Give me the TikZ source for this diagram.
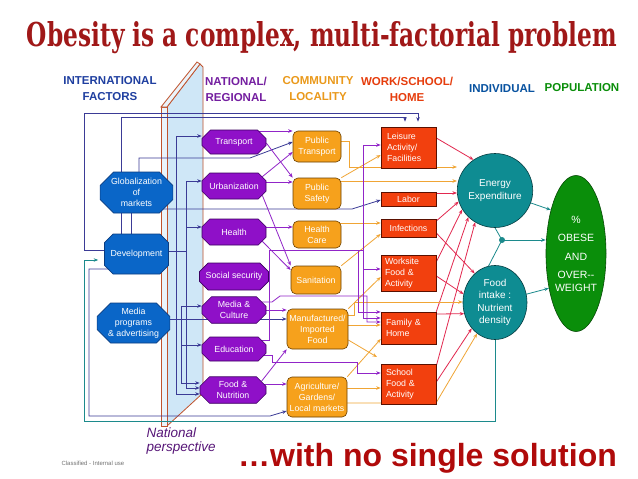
\documentclass[tikz,border=0pt]{standalone}
\usepackage{fontspec}
\setmainfont{Liberation Sans}
\newfontfamily\titlefont{DejaVu Serif}
\usetikzlibrary{shapes.misc,shapes.geometric,arrows.meta}
\definecolor{cint}{HTML}{0A66C8}\definecolor{cintb}{HTML}{0A3C80}
\definecolor{cnat}{HTML}{8F10C8}\definecolor{cnatb}{HTML}{3C0060}
\definecolor{ccom}{HTML}{F6A11C}\definecolor{ccomb}{HTML}{6B4000}
\definecolor{cwork}{HTML}{F2400E}\definecolor{cworkb}{HTML}{5A1000}
\definecolor{cind}{HTML}{0E8C92}\definecolor{cindb}{HTML}{043C40}
\definecolor{cpop}{HTML}{0A8E0A}\definecolor{cpopb}{HTML}{064A06}
\definecolor{lnav}{HTML}{3B3B96}\definecolor{lpur}{HTML}{9125C8}
\definecolor{lora}{HTML}{F0A535}\definecolor{lred}{HTML}{E2284F}
\definecolor{ltea}{HTML}{1C8A8C}
\definecolor{hblue}{HTML}{1F3FA0}
\definecolor{titred}{HTML}{A01818}\definecolor{solred}{HTML}{B00A0A}
\definecolor{slabface}{HTML}{CFE7F7}\definecolor{slabstrip}{HTML}{EAF4FB}
\definecolor{slabline}{HTML}{C0532D}
\pgfdeclarelayer{back}\pgfdeclarelayer{lines}\pgfsetlayers{back,lines,main}
\begin{document}
\begin{tikzpicture}[x=1pt,y=-1pt,
 box/.style={draw, line width=0.6pt, inner sep=1pt, align=center, font=\fontsize{8.8}{11}\selectfont},
 intl/.style={box, chamfered rectangle, chamfered rectangle xsep=10pt, fill=cint, draw=cintb, text=white, minimum width=63pt, minimum height=41pt},
 natl/.style={box, chamfered rectangle, chamfered rectangle xsep=6pt, fill=cnat, draw=cnatb, text=white, minimum width=64pt},
 comm/.style={box, rectangle, rounded corners=5pt, fill=ccom, draw=ccomb, text=white, minimum width=48pt},
 work/.style={box, rectangle, fill=cwork, draw=cworkb, text=white, minimum width=55pt, text width=43pt, inner sep=6pt, align=left},
 indiv/.style={ellipse, draw=cindb, line width=0.6pt, fill=cind, text=white, minimum width=64pt, minimum height=74pt, align=center, inner sep=0pt, font=\fontsize{10}{12.5}\selectfont},
 hdr/.style={font=\fontsize{11.5}{16}\selectfont\bfseries, align=center},
 tip/.style={-{Stealth[length=4.5pt,width=3.5pt]}},
 nav/.style={draw=lnav, line width=0.8pt},
 navA/.style={nav, tip},
 pur/.style={draw=lpur, line width=0.8pt},
 purA/.style={pur, tip},
 oraA/.style={draw=lora, line width=0.8pt, tip},
 redA/.style={draw=lred, line width=0.8pt, tip},
 tea/.style={draw=ltea, line width=0.8pt},
 teaA/.style={tea, tip}]
\useasboundingbox (0,0) rectangle (638,479);

% title
\node[anchor=base, text=titred] (title) at (322,46) {\resizebox{590pt}{25pt}{\titlefont\bfseries Obesity is a complex, multi-factorial problem}};

% headers
\node[hdr, text=hblue] (h1) at (110,89) {INTERNATIONAL\\FACTORS};
\node[hdr, text=lpur!80!black] (h2) at (236,89) {NATIONAL/\\REGIONAL};
\node[hdr, text=ccom!95!black] (h3) at (318,89) {COMMUNITY\\LOCALITY};
\node[hdr, text=cwork!95!black] (h4) at (407,89) {WORK/SCHOOL/\\HOME};
\node[hdr, text=cint!80!black] (h5) at (502,89) {INDIVIDUAL};
\node[hdr, text=cpop] (h6) at (582,88) {POPULATION};

% slab
\begin{pgfonlayer}{back}
\fill[white] (0,0) rectangle (638,479);
\filldraw[fill=slabface, draw=slabline, line width=0.8pt] (167,107) -- (200,64) -- (203,67) -- (203,393) -- (167,426) -- cycle;
\filldraw[fill=slabstrip, draw=slabline, line width=0.8pt] (161,107) -- (167,107) -- (167,426) -- (161,426) -- cycle;
\filldraw[fill=slabstrip, draw=slabline, line width=0.8pt] (161,107) -- (197,62) -- (200,64) -- (167,107) -- cycle;
\end{pgfonlayer}
\node[anchor=north west, align=left, text=lpur!60!black, font=\fontsize{13.5}{14}\selectfont\itshape] (natp) at (143,424) {National\\perspective};

% international
\node[intl] (glob) at (136.5,192.5) {Globalization\\of\\markets};
\node[intl, minimum height=40pt] (dev) at (136.5,254) {Development};
\node[intl, minimum height=40pt] (media) at (133.5,323) {Media\\programs\\\& advertising};

% national
\node[natl, minimum height=24pt] (tr) at (234,142) {Transport};
\node[natl, minimum height=26pt] (urb) at (234,186) {Urbanization};
\node[natl, minimum height=26pt] (hea) at (234,232) {Health};
\node[natl, minimum height=27pt] (soc) at (234,276.5) {Social security};
\node[natl, minimum height=26pt] (mc) at (234,310) {Media \&\\Culture};
\node[natl, minimum height=24pt] (edu) at (234,349) {Education};
\node[natl, minimum height=25pt, minimum width=66pt] (fn) at (233,390) {Food \&\\Nutrition};

% community
\node[comm, minimum height=31pt] (pt) at (317,146.5) {Public\\Transport};
\node[comm, minimum height=31pt] (ps) at (317,193.5) {Public\\Safety};
\node[comm, minimum height=27pt] (hc) at (317,234.5) {Health\\Care};
\node[comm, minimum height=28pt, minimum width=50pt] (san) at (316,280) {Sanitation};
\node[comm, minimum height=40pt, minimum width=61pt] (man) at (317.5,329) {Manufactured/\\Imported\\Food};
\node[comm, minimum height=40pt, minimum width=60pt] (agr) at (317,397) {Agriculture/\\Gardens/\\Local markets};

% work
\node[work, minimum height=41pt] (lei) at (408.5,147.5) {Leisure\\Activity/\\Facilities};
\node[work, minimum height=14pt, align=center, inner sep=1pt] (lab) at (408.5,199) {Labor};
\node[work, minimum height=18pt, align=center, inner sep=1pt] (inf) at (408.5,228) {Infections};
\node[work, minimum height=33pt, inner sep=3pt, text width=47pt] (wor) at (408.5,273.5) {Worksite\\Food \&\\Activity};
\node[work, minimum height=32pt, inner sep=5pt, text width=45pt] (fam) at (408.5,328) {Family \&\\Home};
\node[work, minimum height=38pt, inner sep=5pt, text width=45pt] (sch) at (408.5,384) {School\\Food \&\\Activity};

% individual / population
\node[indiv] (ee) at (495,190.5) {Energy\\Expenditure};
\node[indiv] (fi) at (495,302.5) {Food\\intake :\\Nutrient\\density};
\node[ellipse, draw=cpopb, line width=0.6pt, fill=cpop, text=white, minimum width=60pt, minimum height=156pt, inner sep=0pt, align=center, font=\fontsize{10.5}{18.5}\selectfont] (pop) at (576,253.5) {\%\\OBESE\\AND\\OVER-{}-\\[-6pt]WEIGHT};

% bottom texts
\node[anchor=base, text=solred, font=\fontsize{32}{34}\selectfont\bfseries] (sol) at (427.5,466) {…with no single solution};
\node[anchor=base west, text=black!55, font=\fontsize{6}{7}\selectfont] (cls) at (58,465) {Classified - Internal use};

\coordinate (gapc) at (377,357);
\coordinate (jn) at (502,240);

\begin{pgfonlayer}{lines}
% navy
\draw[navA, shorten >=5pt] (dev |- 0,250) -- (84,250) -- (84,113) -- (418,113) -- (lei.north -| 418,0);
\draw[navA, shorten >=5pt] (glob -| 121,0) -- (121,117) -- (405,117) -- (lei.north -| 405,0);
\draw[navA] (glob -| 139,0) -- (139,158) -- (250,158) -- (pt.west |- 0,142);
\draw[navA] (glob |- 0,209) -- (352,209) -- (lab.west |- 0,200);
\draw[nav] (glob -| 121,0) -- (dev -| 121,0);
\draw[nav] (glob -| 131,0) -- (dev -| 131,0);
\draw[navA] (dev |- 0,251) -- (186,251) -- (186,181) -- (urb.west |- 0,181);
\draw[navA] (186,227) -- (hea.west |- 0,227);
\draw[navA] (186,251) -- (186,388) -- (fn.west |- 0,388);
\draw[navA] (176,251) -- (176,136) -- (tr.west |- 0,136);
\draw[navA] (176,251) -- (176,394) -- (fn.west |- 0,394);
\draw[navA] (media |- 0,319) -- (man.west |- 0,319);
\draw[navA] (181,319) -- (181,306) -- (mc.west |- 0,306);
\draw[navA] (181,319) -- (181,383) -- (fn.west |- 0,383);
\draw[navA] (181,345) -- (edu.west |- 0,345);
\draw[navA] (dev |- 0,269) -- (89,269) -- (89,416) -- (270,416) -- (agr.west |- 0,411);
% teal
\draw[teaA, shorten >=6pt] (fi) -- (fi |- 0,421) -- (84,421) -- (84,260) -- (dev.west |- 0,260);
\draw[teaA] (ee) -- (pop.120);
\draw[tea] (ee.south) -- (jn) -- (fi.100);
\fill[ltea] (jn) circle (3pt);
\draw[teaA] (jn) -- (pop.west |- jn);
\draw[teaA] (fi) -- (pop.232);
% red
\draw[redA] (lei.east |- 0,138) -- (ee.125);
\draw[redA] (lab.east |- 0,193) -- (ee.west |- 0,193);
\draw[redA] (inf.east |- 0,221) -- (ee.197);
\draw[redA] (inf.east |- 0,233) -- (fi.125);
\draw[redA] (wor.east |- 0,262) -- (ee.210);
\draw[redA] (wor.east |- 0,276) -- (fi.165);
\draw[redA] (fam.north east) -- (ee.225);
\draw[redA] (fam.east |- 0,314) -- (fi.200);
\draw[redA] (sch.east |- 0,366) -- (ee.238);
\draw[redA] (sch.east |- 0,382) -- (fi.228);
% orange
\draw[oraA] (pt |- 0,141) -- (349,141) -- (349,167) -- (ee.west |- 0,167);
\draw[oraA] (ps |- 0,181) -- (ee.west |- 0,181);
\draw[oraA] (ps.north east) -- (lei.west |- 0,155);
\draw[oraA] (hc |- 0,223) -- (inf.west |- 0,223);
\draw[oraA] (san.north east) -- (inf.west |- 0,234);
\draw[oraA] (man.north east) -- (wor.west |- 0,277);
\draw[oraA] (man |- 0,315) -- (354,315) -- (354,302) -- (fi.west |- 0,302);
\draw[oraA] (man |- 0,325) -- (fam.west |- 0,325);
\draw[oraA] (man.east |- 0,340) -- (gapc);
\draw[oraA] (agr.north east) -- (fam.west |- 0,339);
\draw[oraA] (agr |- 0,388) -- (sch.west |- 0,388);
\draw[oraA] (agr |- 0,403) -- (436,403) -- (fi.240);
% purple
\draw[purA] (tr |- 0,131) -- (pt.west |- 0,131);
\draw[purA] (tr.east |- 0,143) -- (ps.north west);
\draw[purA] (urb.north east) -- (pt.west |- 0,152);
\draw[purA] (urb |- 0,182) -- (ps.west |- 0,182);
\draw[purA] (urb.south east) -- (san.north west);
\draw[purA] (hea |- 0,227) -- (hc.west |- 0,227);
\draw[purA] (hea.south east) -- (san.west |- 0,270);
\draw[pur] (soc) -- (269,276.5);
\draw[purA] (edu |- 0,340) -- (269,340) -- (269,250) -- (363,250) -- (363,145) -- (lei.west |- 0,145);
\draw[purA] (363,250) -- (363,269) -- (wor.west |- 0,269);
\draw[purA] (363,269) -- (363,318) -- (fam.west |- 0,318);
\draw[purA] (358,250) -- (358,312) -- (fam.west |- 0,312);
\draw[purA] (mc |- 0,302) -- (272,302) -- (280,296) -- (367,296) -- (367,322) -- (fam.west |- 0,322);
\draw[purA] (mc |- 0,310) -- (man.west |- 0,310);
\draw[purA] (edu |- 0,355) -- (272,355) -- (272,362) -- (357,362) -- (357,373) -- (sch.west |- 0,373);
\draw[purA] (fn |- 0,384) -- (agr.west |- 0,384);
\draw[purA] (fn.north east) -- (man.south west);
\end{pgfonlayer}
\end{tikzpicture}
\end{document}
